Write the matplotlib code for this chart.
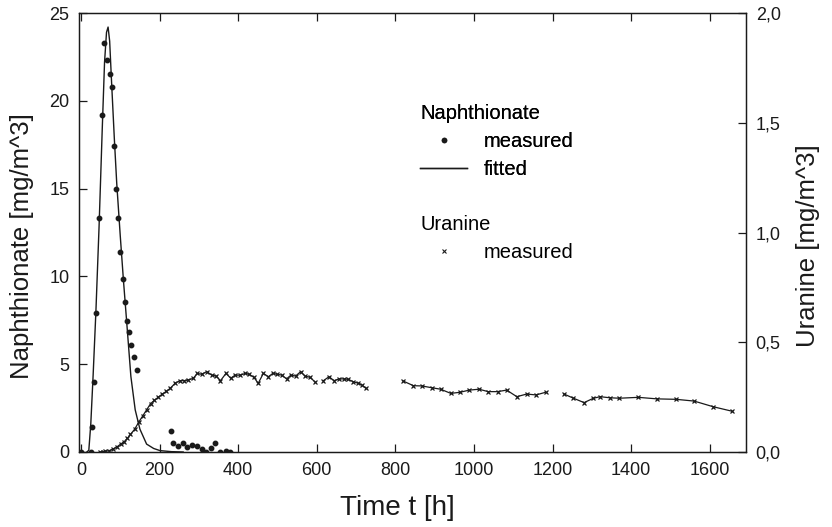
import numpy as np
import matplotlib
matplotlib.use("Agg")
import matplotlib.pyplot as plt
from matplotlib.lines import Line2D
from matplotlib.ticker import FuncFormatter

plt.rcParams['font.family'] = ['Liberation Sans', 'DejaVu Sans']

# Naphthionate, measured [mg/m^3]
naph_t = [0, 25, 27, 32, 38, 46, 54, 59, 65, 74, 78, 83, 88, 95, 100, 106, 111,
          117, 123, 128, 134, 142, 228, 235, 248, 259, 271, 283, 294, 307, 317,
          330, 341, 355, 368, 379]
naph_c = [0, 0, 1.4, 4.0, 7.9, 13.3, 19.2, 23.3, 22.3, 21.5, 20.8, 17.4, 15.0,
          13.3, 11.4, 9.85, 8.56, 7.46, 6.83, 6.1, 5.4, 4.65, 1.2, 0.5, 0.36,
          0.53, 0.27, 0.4, 0.34, 0.17, 0.0, 0.2, 0.53, 0.0, 0.06, 0.0]

# Naphthionate, fitted curve
fit_t = [15, 20, 25, 31, 38, 46, 54, 60, 65, 69, 73, 78, 85, 91, 100, 108, 116,
         127, 138, 150, 167, 185, 201, 230, 260]
fit_c = [0, 0.1, 1.6, 4.4, 8.0, 12.8, 18.3, 22.2, 23.9, 24.2, 23.4, 21.0, 17.8,
         15.3, 12.3, 9.8, 7.5, 4.3, 2.4, 1.3, 0.45, 0.2, 0.08, 0.02, 0.0]

# Uranine, measured [mg/m^3] (nan = gap in the record)
ura_t = [48, 55, 62, 72, 82, 92, 101, 110, 118, 126, 137, 147, 157, 167, 177,
         187, 197, 207, 217, 227, 240, 252, 262, 273, 286, 296, 307, 320, 333,
         344, 355, 369, 381, 392, 405, 418, 428, 440, 451, 464, 477, 488, 500,
         511, 523, 534, 546, 559, 570, 583, 595, 606,
         617, 631, 644, 657, 668, 680, 693, 706, 714, 725, 770,
         820, 846, 867, 892, 915, 941, 964, 988, 1013, 1036, 1060, 1083, 1109,
         1134, 1158, 1182, 1205,
         1229, 1253, 1280, 1304, 1321, 1346, 1370, 1418, 1466, 1514, 1560, 1609,
         1656]
ura_c = [0, 0.002, 0.003, 0.006, 0.014, 0.024, 0.036, 0.047, 0.062, 0.080,
         0.105, 0.136, 0.164, 0.192, 0.220, 0.236, 0.250, 0.264, 0.276, 0.290,
         0.314, 0.325, 0.325, 0.328, 0.336, 0.358, 0.354, 0.366, 0.350, 0.346,
         0.325, 0.358, 0.336, 0.350, 0.350, 0.358, 0.354, 0.340, 0.313, 0.358,
         0.343, 0.358, 0.354, 0.350, 0.333, 0.350, 0.346, 0.366, 0.346, 0.340,
         0.320, np.nan,
         0.325, 0.343, 0.325, 0.333, 0.333, 0.331, 0.320, 0.313, 0.306, 0.290,
         np.nan,
         0.323, 0.302, 0.301, 0.293, 0.286, 0.267, 0.272, 0.282, 0.286, 0.275,
         0.275, 0.282, 0.252, 0.264, 0.260, 0.272, np.nan,
         0.264, 0.245, 0.225, 0.245, 0.252, 0.247, 0.245, 0.249, 0.242, 0.240,
         0.232, 0.206, 0.186]

x_ticks = [0, 200, 400, 600, 800, 1000, 1200, 1400, 1600]
left_ticks = [0, 5, 10, 15, 20, 25]
right_ticks = [0.0, 0.5, 1.0, 1.5, 2.0]

ink = '#1a1a1a'

fig = plt.figure(figsize=(8.32, 5.27), dpi=100)
ax = fig.add_axes([79 / 832, 75 / 527, 667 / 832, 439 / 527])
ax2 = ax.twinx()

ax.plot(fit_t, fit_c, color=ink, lw=1.0)
ax.plot(naph_t, naph_c, ls='none', marker='o', ms=3.2, color=ink)
ax2.plot(ura_t, ura_c, color=ink, lw=0.9, marker='x', ms=3.5, mew=0.9)

ax.set_xlim(-5, 1692)
ax.set_ylim(0, 25)
ax2.set_ylim(0, 2.0)
ax.set_xticks(x_ticks)
ax.set_yticks(left_ticks)
ax2.set_yticks(right_ticks)
ax2.yaxis.set_major_formatter(FuncFormatter(lambda v, p: f"{v:.1f}".replace('.', ',')))

ax.tick_params(axis='both', direction='in', length=6, width=0.9, labelsize=13,
               top=True, colors=ink, pad=7)
ax.tick_params(axis='y', right=False)
ax2.tick_params(axis='y', direction='in', length=6, width=0.9, labelsize=13,
                colors=ink, pad=7)
for a in (ax, ax2):
    for s in a.spines.values():
        s.set_linewidth(0.9)
        s.set_color(ink)

ax.set_xlabel("Time t [h]", fontsize=20, color=ink, va='center')
ax.set_ylabel("Naphthionate [mg/m^3]", fontsize=18.5, color=ink, va='center')
ax2.set_ylabel("Uranine [mg/m^3]", fontsize=18.5, color=ink, va='center')
ax.xaxis.set_label_coords(0.478, -0.128)
ax.yaxis.set_label_coords(-0.086, 0.47)
ax2.yaxis.set_label_coords(1.093, 0.47)

h1 = [Line2D([], [], ls='none', marker='o', ms=3, color=ink),
      Line2D([], [], color=ink, lw=1.0)]
leg1 = ax.legend(h1, ["measured", "fitted"], title="Naphthionate",
                 loc='upper left', bbox_to_anchor=(420 / 832, 1 - 104 / 527),
                 bbox_transform=fig.transFigure, frameon=False, fontsize=14.5,
                 title_fontsize=14.5, alignment='left', borderpad=0,
                 handlelength=2.35, handletextpad=0.8, labelspacing=0.45,
                 borderaxespad=0)
ax.add_artist(leg1)
h2 = [Line2D([], [], ls='none', marker='x', ms=3, mew=0.8, color=ink)]
ax2.legend(h2, ["measured"], title="Uranine",
           loc='upper left', bbox_to_anchor=(420 / 832, 1 - 215 / 527),
           bbox_transform=fig.transFigure, frameon=False, fontsize=14.5,
           title_fontsize=14.5, alignment='left', borderpad=0,
           handlelength=2.35, handletextpad=0.8, labelspacing=0.45,
           borderaxespad=0)

fig.savefig("out.png", dpi=100)
